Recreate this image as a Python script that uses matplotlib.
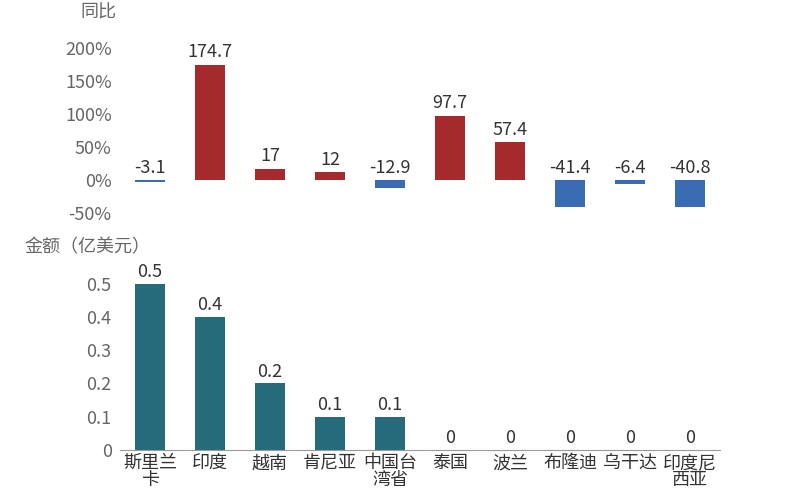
import matplotlib
matplotlib.use("Agg")
import matplotlib.pyplot as plt

plt.rcParams['font.family'] = ['Noto Sans CJK SC', 'DejaVu Sans']

categories = ["斯里兰\n卡", "印度", "越南", "肯尼亚", "中国台\n湾省", "泰国", "波兰", "布隆迪", "乌干达", "印度尼\n西亚"]
yoy = [-3.1, 174.7, 17, 12, -12.9, 97.7, 57.4, -41.4, -6.4, -40.8]
amount = [0.5, 0.4, 0.2, 0.1, 0.1, 0, 0, 0, 0, 0]
yoy_ticks = [-50, 0, 50, 100, 150, 200]
amt_ticks = [0, 0.1, 0.2, 0.3, 0.4, 0.5]

red, blue, teal, gray = "#A52A2C", "#3A6CB4", "#256B7A", "#666666"
fig = plt.figure(figsize=(8, 5), dpi=100)
x = list(range(len(categories)))

ax1 = fig.add_axes([0.15, 0.561, 0.75, 0.356])
ax1.bar(x, yoy, width=0.5, color=[red if v >= 0 else blue for v in yoy])
for i, v in zip(x, yoy):
    ax1.text(i, max(v, 0) + 5, f"{v:g}", ha="center", va="bottom", fontsize=13, color="#333333")
ax1.set_xlim(-0.5, 9.5)
ax1.set_ylim(-60, 210)
ax1.set_yticks(yoy_ticks)
ax1.set_yticklabels([f"{t}%" for t in yoy_ticks], fontsize=13, color=gray)
ax1.set_xticks([])
for s in ax1.spines.values():
    s.set_visible(False)
ax1.tick_params(axis="y", length=0, pad=6)
fig.text(0.1, 0.975, "同比", fontsize=13, color=gray, va="center")

ax2 = fig.add_axes([0.15, 0.1, 0.75, 0.366])
ax2.bar(x, amount, width=0.5, color=teal)
for i, v in zip(x, amount):
    ax2.text(i, v + 0.008, f"{v:g}", ha="center", va="bottom", fontsize=13, color="#333333")
ax2.set_xlim(-0.5, 9.5)
ax2.set_ylim(0, 0.55)
ax2.set_yticks(amt_ticks)
ax2.set_yticklabels([f"{t:g}" for t in amt_ticks], fontsize=13, color=gray)
ax2.set_xticks(x)
ax2.set_xticklabels(categories, fontsize=13, color="#333333", linespacing=0.9)
for k in ["top", "right", "left"]:
    ax2.spines[k].set_visible(False)
ax2.spines["bottom"].set_color("#999999")
ax2.tick_params(axis="y", length=0, pad=6)
ax2.tick_params(axis="x", length=0, pad=3)
fig.text(0.03, 0.505, "金额（亿美元）", fontsize=13, color=gray, va="center")

fig.savefig("out.png")
